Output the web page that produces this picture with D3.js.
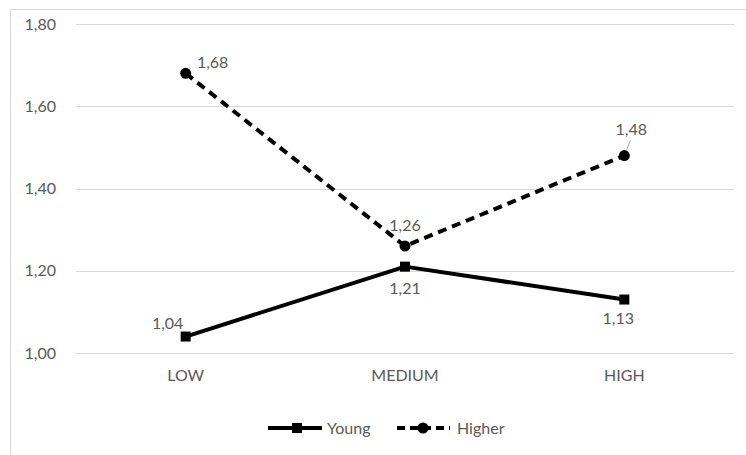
<!DOCTYPE html>
<html>
<head>
<meta charset="utf-8">
<script src="https://cdn.jsdelivr.net/npm/d3@7"></script>
<style>
  html, body { margin: 0; padding: 0; background: #fff; }
  svg { display: block; }
  text { font-family: Lato, "Open Sans", "Liberation Sans", sans-serif; fill: #595959; }
</style>
</head>
<body>
<svg id="chart" width="746" height="455"></svg>
<script>
const categories = ["LOW", "MEDIUM", "HIGH"];
const youngValues = [1.04, 1.21, 1.13];
const higherValues = [1.68, 1.26, 1.48];
const yTicks = [1.00, 1.20, 1.40, 1.60, 1.80];
const seriesNames = ["Young", "Higher"];

const svg = d3.select("#chart");
const W = 746, H = 455;
const margin = { left: 76, right: 12, top: 24, bottom: 102 };
const fontFamily = "Lato, 'Open Sans', sans-serif";

// Chart frame
svg.append("rect")
  .attr("x", 10.5).attr("y", 9.5)
  .attr("width", W + 20).attr("height", H + 20)
  .attr("fill", "none").attr("stroke", "#d9d9d9").attr("stroke-width", 1);

const x = d3.scaleBand().domain(categories).range([margin.left, W - margin.right]);
const y = d3.scaleLinear().domain([1.0, 1.8]).range([H - margin.bottom, margin.top]);
const fmt = v => d3.format(".2f")(v).replace(".", ",");

// Gridlines
svg.append("g").selectAll("line").data(yTicks).join("line")
  .attr("x1", margin.left).attr("x2", W - margin.right)
  .attr("y1", d => Math.round(y(d)) + 0.5).attr("y2", d => Math.round(y(d)) + 0.5)
  .attr("stroke", "#d9d9d9").attr("stroke-width", 1);

// Y axis labels
const yAxis = d3.axisLeft(y).tickValues(yTicks).tickFormat(fmt).tickSize(0).tickPadding(20);
const gy = svg.append("g").attr("transform", `translate(${margin.left},0)`).call(yAxis);
gy.select(".domain").remove();
gy.selectAll("text").attr("font-size", 16).style("fill", "#595959")
  .style("font-family", fontFamily);

// X axis labels
const xAxis = d3.axisBottom(x).tickSize(0).tickPadding(17);
const gx = svg.append("g").attr("transform", `translate(0,${y(1.0)})`).call(xAxis);
gx.select(".domain").remove();
gx.selectAll("text").attr("font-size", 16).style("fill", "#595959")
  .style("font-family", fontFamily);

const cx = c => x(c) + x.bandwidth() / 2;
const line = d3.line().x(d => cx(d.c)).y(d => y(d.v));

const young = categories.map((c, i) => ({ c, v: youngValues[i] }));
const higher = categories.map((c, i) => ({ c, v: higherValues[i] }));

// Young series: solid line with square markers
svg.append("path").datum(young).attr("d", line)
  .attr("fill", "none").attr("stroke", "#000").attr("stroke-width", 4).attr("stroke-linejoin", "round");
svg.append("g").selectAll("rect").data(young).join("rect")
  .attr("x", d => cx(d.c) - 5).attr("y", d => y(d.v) - 5)
  .attr("width", 10).attr("height", 10).attr("fill", "#000");

// Higher series: dashed line with circle markers
svg.append("path").datum(higher).attr("d", line)
  .attr("fill", "none").attr("stroke", "#000").attr("stroke-width", 4)
  .attr("stroke-dasharray", "9,6");
svg.append("g").selectAll("circle").data(higher).join("circle")
  .attr("cx", d => cx(d.c)).attr("cy", d => y(d.v)).attr("r", 5.5).attr("fill", "#000");

// Data labels
const youngOffsets = [{ dx: -18, dy: -8 }, { dx: 0, dy: 27 }, { dx: -6, dy: 24 }];
const higherOffsets = [{ dx: 27, dy: -5 }, { dx: 0, dy: -15 }, { dx: 7, dy: -21 }];

svg.append("g").selectAll("text").data(young).join("text")
  .attr("x", (d, i) => cx(d.c) + youngOffsets[i].dx)
  .attr("y", (d, i) => y(d.v) + youngOffsets[i].dy)
  .attr("text-anchor", "middle").attr("font-size", 16)
  .text(d => fmt(d.v));

svg.append("g").selectAll("text").data(higher).join("text")
  .attr("x", (d, i) => cx(d.c) + higherOffsets[i].dx)
  .attr("y", (d, i) => y(d.v) + higherOffsets[i].dy)
  .attr("text-anchor", "middle").attr("font-size", 16)
  .text(d => fmt(d.v));

// Leader line for the HIGH label of the Higher series
svg.append("line")
  .attr("x1", cx("HIGH") + 6).attr("y1", y(higherValues[2]) - 15)
  .attr("x2", cx("HIGH") + 2).attr("y2", y(higherValues[2]) - 5)
  .attr("stroke", "#a6a6a6").attr("stroke-width", 1);

// Legend
const legY = 428;
const leg = svg.append("g");
leg.append("line").attr("x1", 268).attr("x2", 322).attr("y1", legY).attr("y2", legY)
  .attr("stroke", "#000").attr("stroke-width", 4);
leg.append("rect").attr("x", 292).attr("y", legY - 5).attr("width", 10).attr("height", 10).attr("fill", "#000");
leg.append("text").attr("x", 327).attr("y", legY + 6).attr("font-size", 16).text(seriesNames[0]);

leg.append("line").attr("x1", 397).attr("x2", 450).attr("y1", legY).attr("y2", legY)
  .attr("stroke", "#000").attr("stroke-width", 4).attr("stroke-dasharray", "8,5");
leg.append("circle").attr("cx", 423).attr("cy", legY).attr("r", 5.5).attr("fill", "#000");
leg.append("text").attr("x", 457).attr("y", legY + 6).attr("font-size", 16).text(seriesNames[1]);
</script>
</body>
</html>
